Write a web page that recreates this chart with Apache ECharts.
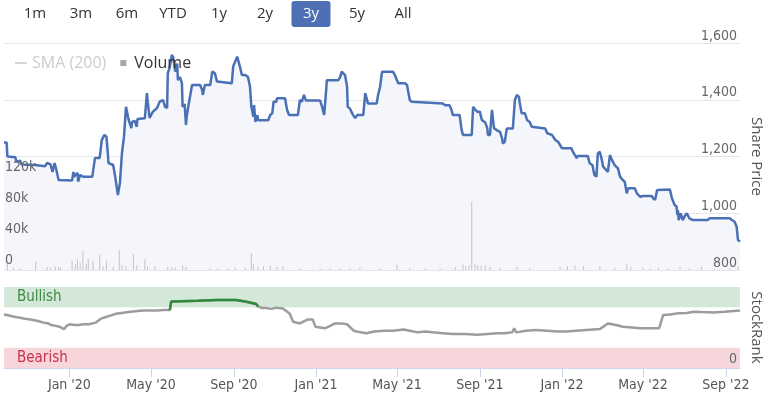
<!DOCTYPE html>
<html><head><meta charset="utf-8">
<script src="https://cdn.jsdelivr.net/npm/echarts@6/dist/echarts.min.js"></script>
<style>html,body{margin:0;padding:0;background:#fff}#c{width:767px;height:395px}</style>
</head><body><div id="c"></div>
<script>
const rangeButtons = ['1m','3m','6m','YTD','1y','2y','3y','5y','All'];
const selectedRange = '3y';
const xMin = '2019-09-26';
const xMax = '2022-09-22';
const xTickDates = ['2020-01-01','2020-05-01','2020-09-01','2021-01-01','2021-05-01','2021-09-01','2022-01-01','2022-05-01','2022-09-01'];
const priceTicks = {min: 800, max: 1600, step: 200};
const volumeTicks = {min: 0, max: 160000, step: 40000};
const rankTicks = {min: 0, max: 100};
const bullishBand = [75, 100];
const bearishBand = [0, 25];

const priceDates = ['2019-09-26','2019-09-30','2019-10-01','2019-10-13','2019-10-14','2019-10-20','2019-10-22','2019-11-11','2019-11-26','2019-11-29','2019-12-04','2019-12-07','2019-12-10','2019-12-13','2019-12-16','2020-01-05','2020-01-07','2020-01-08','2020-01-13','2020-01-14','2020-01-17','2020-01-21','2020-02-04','2020-02-05','2020-02-08','2020-02-15','2020-02-18','2020-02-22','2020-02-25','2020-02-27','2020-02-28','2020-03-06','2020-03-09','2020-03-13','2020-03-16','2020-03-19','2020-03-22','2020-03-25','2020-03-28','2020-03-29','2020-04-02','2020-04-03','2020-04-07','2020-04-10','2020-04-11','2020-04-22','2020-04-25','2020-04-26','2020-04-29','2020-05-04','2020-05-10','2020-05-14','2020-05-19','2020-05-22','2020-05-25','2020-05-26','2020-05-29','2020-06-01','2020-06-03','2020-06-06','2020-06-09','2020-06-10','2020-06-13','2020-06-16','2020-06-17','2020-06-20','2020-06-22','2020-06-23','2020-06-25','2020-07-01','2020-07-13','2020-07-16','2020-07-17','2020-07-20','2020-07-28','2020-07-31','2020-08-04','2020-08-07','2020-08-08','2020-08-29','2020-08-31','2020-09-06','2020-09-10','2020-09-13','2020-09-18','2020-09-22','2020-09-25','2020-09-27','2020-09-30','2020-10-01','2020-10-03','2020-10-06','2020-10-07','2020-10-22','2020-10-25','2020-10-28','2020-10-30','2020-11-03','2020-11-04','2020-11-16','2020-11-19','2020-11-22','2020-12-05','2020-12-08','2020-12-11','2020-12-14','2020-12-17','2021-01-07','2021-01-10','2021-01-13','2021-01-16','2021-01-17','2021-02-03','2021-02-06','2021-02-08','2021-02-13','2021-02-16','2021-02-17','2021-02-20','2021-02-25','2021-02-28','2021-03-03','2021-03-12','2021-03-15','2021-03-16','2021-03-19','2021-04-01','2021-04-03','2021-04-06','2021-04-09','2021-04-25','2021-04-28','2021-05-01','2021-05-03','2021-05-13','2021-05-16','2021-05-17','2021-05-20','2021-05-23','2021-05-25','2021-07-08','2021-07-11','2021-07-18','2021-07-21','2021-07-23','2021-08-02','2021-08-05','2021-08-07','2021-08-20','2021-08-22','2021-08-25','2021-08-28','2021-09-01','2021-09-04','2021-09-09','2021-09-12','2021-09-13','2021-09-16','2021-09-19','2021-09-22','2021-09-23','2021-09-28','2021-10-01','2021-10-04','2021-10-05','2021-10-08','2021-10-11','2021-10-20','2021-10-23','2021-10-26','2021-10-29','2021-10-30','2021-11-02','2021-11-07','2021-11-10','2021-11-14','2021-11-17','2021-11-19','2021-12-07','2021-12-10','2021-12-11','2021-12-17','2021-12-22','2021-12-26','2022-01-01','2022-01-15','2022-01-17','2022-01-20','2022-01-23','2022-01-24','2022-02-08','2022-02-11','2022-02-15','2022-02-18','2022-02-21','2022-02-23','2022-02-26','2022-03-01','2022-03-03','2022-03-05','2022-03-10','2022-03-13','2022-03-16','2022-03-20','2022-03-25','2022-03-28','2022-04-01','2022-04-04','2022-04-07','2022-04-09','2022-04-19','2022-04-22','2022-04-27','2022-05-01','2022-05-14','2022-05-16','2022-05-19','2022-05-22','2022-06-10','2022-06-13','2022-06-17','2022-06-20','2022-06-21','2022-06-22','2022-06-23','2022-06-26','2022-06-29','2022-07-02','2022-07-05','2022-07-09','2022-07-14','2022-08-05','2022-08-08','2022-09-07','2022-09-10','2022-09-14','2022-09-17','2022-09-19','2022-09-22'];
const priceValues = [1249,1249,1200,1197,1182,1185,1172,1170,1166,1177,1172,1146,1177,1150,1117,1115,1146,1129,1142,1111,1135,1129,1129,1146,1195,1195,1258,1276,1270,1212,1177,1170,1129,1064,1107,1212,1269,1375,1340,1329,1300,1322,1325,1305,1332,1335,1423,1399,1336,1358,1371,1393,1399,1375,1371,1493,1516,1558,1550,1499,1528,1469,1480,1458,1375,1385,1311,1340,1370,1452,1452,1434,1417,1452,1452,1499,1493,1464,1458,1458,1517,1552,1517,1487,1487,1480,1446,1375,1340,1381,1322,1346,1328,1328,1346,1352,1393,1393,1405,1405,1364,1346,1346,1399,1393,1417,1397,1397,1375,1346,1434,1469,1469,1481,1499,1487,1446,1375,1370,1346,1335,1346,1346,1423,1417,1387,1387,1417,1446,1499,1499,1487,1469,1458,1458,1452,1446,1399,1393,1387,1387,1381,1381,1364,1346,1346,1293,1276,1276,1375,1365,1358,1358,1329,1320,1300,1276,1276,1364,1300,1293,1290,1287,1264,1246,1252,1299,1299,1399,1417,1410,1393,1352,1352,1329,1322,1305,1299,1299,1282,1276,1276,1258,1252,1229,1229,1217,1205,1194,1202,1202,1176,1170,1135,1129,1211,1217,1188,1164,1164,1146,1205,1188,1170,1158,1129,1117,1111,1070,1088,1088,1070,1058,1061,1061,1053,1047,1082,1084,1053,1029,1023,994,1010,976,1000,976,990,1000,982,976,976,982,982,976,970,953,906,900];

const volumeDates = ['2019-10-01','2019-10-10','2019-10-20','2019-11-12','2019-11-29','2019-12-04','2019-12-11','2019-12-16','2019-12-19','2020-01-05','2020-01-10','2020-01-13','2020-01-17','2020-01-21','2020-01-26','2020-01-29','2020-02-05','2020-02-15','2020-02-20','2020-02-25','2020-03-06','2020-03-15','2020-03-19','2020-03-25','2020-04-05','2020-04-10','2020-04-22','2020-04-26','2020-05-07','2020-05-26','2020-06-01','2020-06-06','2020-06-17','2020-06-22','2020-07-28','2020-08-08','2020-08-23','2020-09-03','2020-09-18','2020-09-27','2020-09-30','2020-10-07','2020-10-15','2020-10-25','2020-11-04','2020-11-13','2020-12-08','2021-01-07','2021-01-22','2021-02-06','2021-02-20','2021-03-07','2021-04-06','2021-05-01','2021-05-20','2021-06-12','2021-07-04','2021-07-27','2021-08-07','2021-08-11','2021-08-16','2021-08-20','2021-08-25','2021-08-29','2021-09-03','2021-09-09','2021-09-16','2021-10-01','2021-10-26','2021-11-14','2021-12-29','2022-01-09','2022-01-20','2022-02-02','2022-02-26','2022-03-20','2022-04-07','2022-04-13','2022-05-01','2022-05-12','2022-05-24','2022-06-08','2022-06-25','2022-07-09','2022-07-27','2022-08-15','2022-09-07','2022-09-19'];
const volumeValues = [9000,3000,2000,11000,4000,3000,5000,4000,3000,12000,8000,14000,10000,25000,8000,15000,12000,20000,5000,12000,4000,26000,6000,5000,20000,6000,14000,5000,5000,4000,3000,3000,6000,4000,2000,2000,2000,3000,3000,22000,8000,4000,5000,6000,4000,5000,2000,2000,2000,2000,2000,3000,2000,7000,3000,2000,2000,4000,7000,5000,6000,88000,8000,6000,5000,6000,4000,3000,4000,3000,4000,5000,6000,5000,5000,3000,8000,4000,3000,2000,3000,2000,4000,2000,4000,2000,2000,5000];

const rankDates = ['2019-09-26','2019-10-02','2019-10-08','2019-10-13','2019-10-20','2019-10-25','2019-11-04','2019-11-10','2019-11-15','2019-11-24','2019-12-01','2019-12-05','2019-12-12','2019-12-17','2019-12-24','2019-12-28','2020-01-01','2020-01-09','2020-01-15','2020-01-22','2020-01-30','2020-02-09','2020-02-17','2020-02-24','2020-03-03','2020-03-10','2020-03-19','2020-03-28','2020-04-08','2020-04-19','2020-05-01','2020-05-10','2020-05-20','2020-05-29','2020-05-31','2020-06-15','2020-07-09','2020-08-07','2020-09-04','2020-09-18','2020-10-04','2020-10-07','2020-10-13','2020-10-19','2020-10-27','2020-11-03','2020-11-06','2020-11-13','2020-11-23','2020-11-28','2020-12-08','2020-12-20','2020-12-27','2020-12-31','2021-01-07','2021-01-14','2021-01-22','2021-01-29','2021-02-08','2021-02-16','2021-02-26','2021-03-08','2021-03-17','2021-03-28','2021-04-12','2021-04-25','2021-05-11','2021-05-20','2021-06-01','2021-06-12','2021-06-23','2021-07-08','2021-07-23','2021-08-10','2021-08-28','2021-09-12','2021-09-27','2021-10-08','2021-10-19','2021-10-22','2021-10-25','2021-11-08','2021-11-23','2021-12-10','2021-12-25','2022-01-07','2022-01-22','2022-02-06','2022-02-26','2022-03-10','2022-03-22','2022-04-01','2022-04-15','2022-04-27','2022-05-10','2022-05-25','2022-05-31','2022-06-10','2022-06-23','2022-07-05','2022-07-16','2022-07-28','2022-08-14','2022-08-30','2022-09-22'];
const rankValues = [66,65,64,63,62,61,60,59,58,56,55,53,52,51,48,52,54,53,53,54,54,56,61,63,65,67,68,69,70,71,71,71,71.5,71.5,82,82.5,83,84,84,82,79,76,74,74,73,74.5,74,73.5,67,57,55,60,60,51,50,49,52,55,55,54,46,44,43,45,46,46,47.5,46,44,45,44,43,42,42,41,42,43,43,44,49,44,46,47,46,45,45,46,47,48,55,53,51,50,49,49,49,65.5,66,67.5,68,69.5,69,68.5,69.5,71];

const MONTHS = ['Jan','Feb','Mar','Apr','May','Jun','Jul','Aug','Sep','Oct','Nov','Dec'];
const toTs = s => new Date(s + 'T00:00:00').getTime();
const fmtMonth = v => { const d = new Date(v); return MONTHS[d.getMonth()] + " '" + String(d.getFullYear()).slice(2); };
const zip = (a, b) => a.map((d, i) => [toTs(d), b[i]]);
// bullish stretch of the StockRank line: the same readings, kept where the line is in (or rising into) the bullish band
const rankBullish = rankDates.map((d, i) => {
  const v = rankValues[i], next = rankValues[i + 1];
  const keep = v >= bullishBand[0] || (next !== undefined && next >= bullishBand[0] + 5);
  return [toTs(d), keep ? v : null];
});

const AXIS_FONT = 'DejaVu Sans Condensed, DejaVu Sans, sans-serif';
const UI_FONT = 'Open Sans, sans-serif';

const gridLeft = 4, gridRight = 27;
const baseX = {type: 'value', min: toTs(xMin), max: toTs(xMax), axisLine: {show: false}, axisTick: {show: false}, axisLabel: {show: false}, splitLine: {show: false}};

const graphics = [];
const btnStep = 46, btnStart = 35;
rangeButtons.forEach((b, i) => {
  const cx = btnStart + i * btnStep;
  const sel = b === selectedRange;
  if (sel) graphics.push({type: 'rect', shape: {x: cx - 19.5, y: 1, width: 39, height: 26, r: 3}, style: {fill: '#4c70b3'}});
  graphics.push({type: 'text', x: cx, y: 14, style: {text: b, fill: sel ? '#fff' : '#333', font: '15px ' + UI_FONT, align: 'center', verticalAlign: 'middle'}});
});

const priceScale = {gridIndex: 0, type: 'value', position: 'right', min: priceTicks.min, max: priceTicks.max, interval: priceTicks.step, axisLine: {show: false}, axisTick: {show: false}};

const chart = echarts.init(document.getElementById('c'), null, {renderer: 'canvas'});
chart.setOption({
  animation: false,
  backgroundColor: '#fff',
  graphic: graphics,
  legend: {
    left: 10, top: 50, itemWidth: 12, itemHeight: 6, itemGap: 14, z: 10,
    textStyle: {fontSize: 16, fontFamily: UI_FONT, color: '#333'},
    inactiveColor: '#cccccc',
    selected: {'SMA (200)': false, 'Volume': true},
    data: [
      {name: 'SMA (200)', icon: 'path://M0,0H12V1.6H0Z'},
      {name: 'Volume', icon: 'path://M0,0H1V1H0Z', itemStyle: {color: '#a6a6a6'}}
    ]
  },
  grid: [
    {left: gridLeft, right: gridRight, top: 43, height: 227, outerBoundsMode: 'none'},
    {left: gridLeft, right: gridRight, top: 146, height: 124, outerBoundsMode: 'none'},
    {left: gridLeft, right: gridRight, top: 287, height: 81, outerBoundsMode: 'none'}
  ],
  xAxis: [
    Object.assign({}, baseX, {gridIndex: 0}),
    Object.assign({}, baseX, {gridIndex: 1}),
    Object.assign({}, baseX, {
      gridIndex: 2,
      axisLine: {show: true, lineStyle: {color: '#ccd6eb'}},
      axisTick: {show: true, length: 9, lineStyle: {color: '#ccd6eb'}, customValues: xTickDates.map(toTs)},
      axisLabel: {show: true, customValues: xTickDates.map(toTs), formatter: fmtMonth, color: '#555', fontSize: 14, fontFamily: AXIS_FONT, margin: 10, hideOverlap: false}
    })
  ],
  yAxis: [
    Object.assign({}, priceScale, {z: 1, splitLine: {lineStyle: {color: '#e6e6e6'}}, axisLabel: {show: false}}),
    {gridIndex: 1, type: 'value', position: 'left', min: volumeTicks.min, max: volumeTicks.max, interval: volumeTicks.step, z: 6,
     axisLine: {show: false}, axisTick: {show: false}, splitLine: {show: false},
     axisLabel: {inside: true, margin: 1, verticalAlign: 'bottom', padding: [0, 0, 3, 0], color: '#666', fontSize: 14, fontFamily: AXIS_FONT,
       showMaxLabel: false,
       formatter: v => v === 0 ? '0' : (v / 1000) + 'k'}},
    {gridIndex: 2, type: 'value', position: 'right', min: rankTicks.min, max: rankTicks.max, interval: rankTicks.max, z: 6,
     axisLine: {show: false}, axisTick: {show: false}, splitLine: {show: false},
     axisLabel: {inside: true, margin: 3, verticalAlign: 'bottom', padding: [0, 0, 2, 0], showMaxLabel: false, color: '#666', fontSize: 14, fontFamily: AXIS_FONT},
     name: 'StockRank', nameLocation: 'middle', nameRotate: -90, nameGap: 9,
     nameTextStyle: {fontSize: 15, fontFamily: UI_FONT, color: '#555'}},
    Object.assign({}, priceScale, {z: 6, splitLine: {show: false},
     axisLabel: {inside: true, margin: 3, verticalAlign: 'bottom', color: '#666', fontSize: 14, fontFamily: AXIS_FONT,
       formatter: v => v.toLocaleString('en-US')},
     name: 'Share Price', nameLocation: 'middle', nameRotate: -90, nameGap: 6,
     nameTextStyle: {fontSize: 15, fontFamily: UI_FONT, color: '#555'}})
  ],
  series: [
    {name: 'Share Price', type: 'line', xAxisIndex: 0, yAxisIndex: 0, data: zip(priceDates, priceValues),
     symbol: 'none', lineStyle: {color: '#4a71b5', width: 2.5}, itemStyle: {color: '#4a71b5'},
     areaStyle: {color: '#f5f6fc', opacity: 1, origin: 'start'}, z: 2},
    {name: 'Volume', type: 'bar', xAxisIndex: 1, yAxisIndex: 1, data: zip(volumeDates, volumeValues),
     barWidth: 1, itemStyle: {color: '#c4c4c4'}, z: 3},
    {name: 'SMA (200)', type: 'line', xAxisIndex: 0, yAxisIndex: 0, data: [], symbol: 'none', itemStyle: {color: '#cccccc'}},
    {name: 'StockRank', type: 'line', xAxisIndex: 2, yAxisIndex: 2, data: zip(rankDates, rankValues),
     symbol: 'none', lineStyle: {width: 2.5, color: '#9c9c9c'}, itemStyle: {color: '#9c9c9c'}, z: 3,
     markArea: {silent: true, z: 1, data: [
       [{yAxis: bullishBand[0], name: 'Bullish', itemStyle: {color: '#d3e8d8'}, label: {color: '#3d8a45'}}, {yAxis: bullishBand[1]}],
       [{yAxis: bearishBand[0], name: 'Bearish', itemStyle: {color: '#f6d6db'}, label: {color: '#c9304b'}}, {yAxis: bearishBand[1]}]
     ], label: {position: 'insideLeft', fontSize: 15, fontFamily: AXIS_FONT, offset: [8, 0]}}},
    {name: 'StockRank Bullish', type: 'line', xAxisIndex: 2, yAxisIndex: 2, data: rankBullish,
     symbol: 'none', connectNulls: false, lineStyle: {width: 2.5, color: '#2f8a3c'}, z: 4}
  ]
});
</script>
</body></html>
